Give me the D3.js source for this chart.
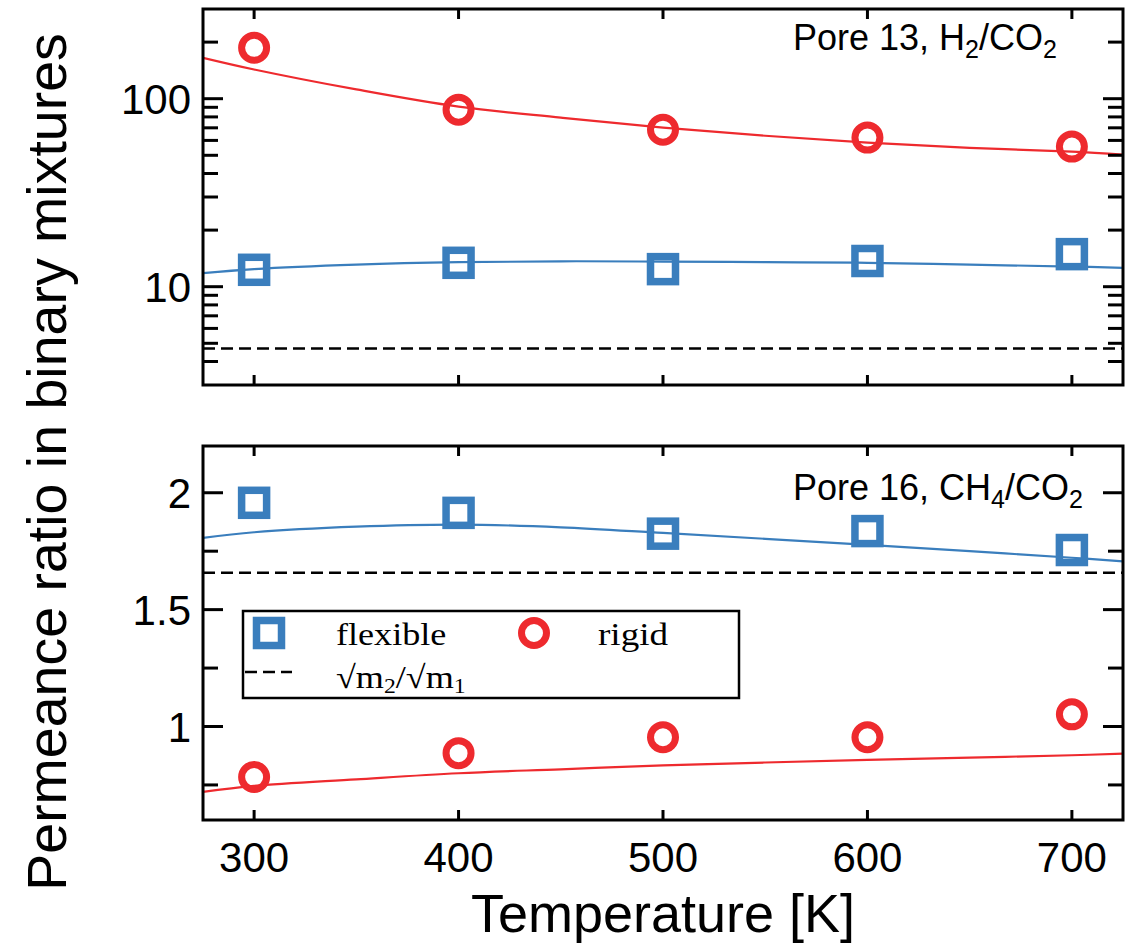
<!DOCTYPE html>
<html>
<head>
<meta charset="utf-8">
<script src="https://cdn.jsdelivr.net/npm/d3@7"></script>
<style>
  html, body { margin: 0; padding: 0; background: #fff; }
  svg { display: block; }
</style>
</head>
<body>
<svg id="chart" width="1143" height="943"></svg>
<script>
// ---- data ----
const temps = [300, 400, 500, 600, 700];
const xTicks = [300, 400, 500, 600, 700];

// Top panel: Pore 13, H2/CO2 (log scale)
const topFlexible = [12.3, 13.4, 12.4, 13.7, 14.9];
const topRigid = [186.6, 87.4, 68.4, 62.1, 55.6];
const topMassRatio = 4.69;

// Bottom panel: Pore 16, CH4/CO2
const bottomFlexible = [1.957, 1.914, 1.825, 1.836, 1.755];
const bottomRigid = [0.784, 0.886, 0.954, 0.954, 1.052];
const bottomMassRatio = 1.658;

// Fit curves
const fitTemps = [275, 300, 350, 400, 450, 500, 550, 600, 650, 700, 725];
const topFlexFit = [11.8, 12.4, 13.1, 13.5, 13.65, 13.6, 13.5, 13.4, 13.1, 12.8, 12.6];
const topRigidFit = [165, 143, 112, 90.7, 79.3, 70.2, 63.5, 58.4, 54.8, 52.3, 50.4];
const bottomFlexFit = [1.807, 1.831, 1.855, 1.864, 1.852, 1.828, 1.803, 1.777, 1.750, 1.722, 1.706];
const bottomRigidFit = [0.720, 0.746, 0.774, 0.800, 0.817, 0.834, 0.846, 0.857, 0.867, 0.877, 0.884];

const topMajor = [10, 100];
const topMinor = [4, 5, 6, 7, 8, 9, 20, 30, 40, 50, 60, 70, 80, 90, 200];
const bottomMajor = [1, 1.5, 2];
const bottomMinor = [0.75, 1.25, 1.75];

// ---- layout ----
const BLUE = "#3A7EBD", RED = "#EE2A2E";
const L = 203, R = 1123;
const topPanel = {t: 9, b: 385};
const botPanel = {t: 446, b: 820};
const svg = d3.select("#chart");
const sans = "'Liberation Sans', Arial, Helvetica, sans-serif";
const serif = "'Liberation Serif', 'Times New Roman', Times, serif";

const x = d3.scaleLinear().domain([275, 725]).range([L, R]);
const yTop = d3.scaleLog().domain([3, 300]).range([topPanel.b, topPanel.t]);
const yBot = d3.scaleLinear().domain([0.6, 2.2]).range([botPanel.b, botPanel.t]);

function panel(y, p, major, minor, fmt, flex, rigid, flexFit, rigidFit, ratio, id) {
  const g = svg.append("g");
  const clipId = "clip" + id;
  svg.append("defs").append("clipPath").attr("id", clipId)
    .append("rect").attr("x", L).attr("y", p.t).attr("width", R - L).attr("height", p.b - p.t);

  const plot = g.append("g").attr("clip-path", `url(#${clipId})`);
  plot.append("line")
    .attr("x1", L).attr("x2", R).attr("y1", y(ratio)).attr("y2", y(ratio))
    .attr("stroke", "#000").attr("stroke-width", 2.5).attr("stroke-dasharray", "12,6");

  const line = (vals) => d3.line()
    .x((d, i) => x(fitTemps[i])).y(d => y(d)).curve(d3.curveCatmullRom)(vals);
  plot.append("path").attr("d", line(flexFit)).attr("fill", "none")
    .attr("stroke", BLUE).attr("stroke-width", 2.2);
  plot.append("path").attr("d", line(rigidFit)).attr("fill", "none")
    .attr("stroke", RED).attr("stroke-width", 2.2);

  g.selectAll(".sq").data(flex).enter().append("rect")
    .attr("x", (d, i) => x(temps[i]) - 12.5).attr("y", d => y(d) - 12.5)
    .attr("width", 25).attr("height", 25)
    .attr("fill", "none").attr("stroke", BLUE).attr("stroke-width", 7.5);
  g.selectAll(".ci").data(rigid).enter().append("circle")
    .attr("cx", (d, i) => x(temps[i])).attr("cy", d => y(d)).attr("r", 12.5)
    .attr("fill", "none").attr("stroke", RED).attr("stroke-width", 7);

  const tk = g.append("g").attr("stroke", "#000").attr("stroke-width", 3);
  xTicks.forEach(t => {
    tk.append("line").attr("x1", x(t)).attr("x2", x(t)).attr("y1", p.b).attr("y2", p.b - 10);
    tk.append("line").attr("x1", x(t)).attr("x2", x(t)).attr("y1", p.t).attr("y2", p.t + 10);
  });
  major.forEach(v => {
    tk.append("line").attr("x1", L).attr("x2", L + 20).attr("y1", y(v)).attr("y2", y(v));
    tk.append("line").attr("x1", R).attr("x2", R - 20).attr("y1", y(v)).attr("y2", y(v));
  });
  minor.forEach(v => {
    tk.append("line").attr("x1", L).attr("x2", L + 15).attr("y1", y(v)).attr("y2", y(v));
    tk.append("line").attr("x1", R).attr("x2", R - 15).attr("y1", y(v)).attr("y2", y(v));
  });
  g.selectAll(".yl").data(major).enter().append("text")
    .attr("x", L - 12).attr("y", d => y(d)).attr("dy", "0.36em")
    .attr("text-anchor", "end").attr("font-family", sans).attr("font-size", 42)
    .text(fmt);

  g.append("rect").attr("x", L).attr("y", p.t).attr("width", R - L).attr("height", p.b - p.t)
    .attr("fill", "none").attr("stroke", "#000").attr("stroke-width", 3);
  return g;
}

const gTop = panel(yTop, topPanel, topMajor, topMinor, d => d3.format("d")(d),
  topFlexible, topRigid, topFlexFit, topRigidFit, topMassRatio, "t");
const gBot = panel(yBot, botPanel, bottomMajor, bottomMinor, d => String(d),
  bottomFlexible, bottomRigid, bottomFlexFit, bottomRigidFit, bottomMassRatio, "b");

function label(g, yb, parts) {
  const t = g.append("text").attr("x", 793).attr("y", yb)
    .attr("font-family", sans).attr("font-size", 36);
  let prevSub = false;
  parts.forEach(([s, sub]) => {
    if (sub) t.append("tspan").attr("font-size", 25).attr("dy", 8).text(s);
    else t.append("tspan").attr("dy", prevSub ? -8 : 0).text(s);
    prevSub = !!sub;
  });
}
label(gTop, 50, [["Pore 13, H"], ["2", true], ["/CO"], ["2", true]]);
label(gBot, 500, [["Pore 16, CH"], ["4", true], ["/CO"], ["2", true]]);

svg.selectAll(".xl").data(xTicks).enter().append("text")
  .attr("x", d => x(d)).attr("y", 872).attr("text-anchor", "middle")
  .attr("font-family", sans).attr("font-size", 42).text(d => d);

svg.append("text").attr("x", (L + R) / 2).attr("y", 932).attr("text-anchor", "middle")
  .attr("font-family", sans).attr("font-size", 54).text("Temperature [K]");
svg.append("text").attr("transform", "translate(66,462) rotate(-90)")
  .attr("text-anchor", "middle").attr("font-family", sans).attr("font-size", 55.5)
  .text("Permeance ratio in binary mixtures");

// legend
const lg = svg.append("g");
lg.append("rect").attr("x", 243).attr("y", 611).attr("width", 496).attr("height", 87)
  .attr("fill", "#fff").attr("stroke", "#000").attr("stroke-width", 2.5);
lg.append("rect").attr("x", 269 - 12.5).attr("y", 633 - 12.5).attr("width", 25).attr("height", 25)
  .attr("fill", "none").attr("stroke", BLUE).attr("stroke-width", 7.5);
lg.append("circle").attr("cx", 534).attr("cy", 633).attr("r", 12.5)
  .attr("fill", "none").attr("stroke", RED).attr("stroke-width", 7);
lg.append("line").attr("x1", 245).attr("x2", 292).attr("y1", 672).attr("y2", 672)
  .attr("stroke", "#000").attr("stroke-width", 2.5).attr("stroke-dasharray", "12,6");
function ltext(xp, yp, sx) {
  return lg.append("text").attr("transform", `translate(${xp},${yp}) scale(${sx},1)`)
    .attr("font-family", serif).attr("font-size", 32);
}
ltext(336, 645, 1.13).text("flexible");
ltext(598, 645, 1.16).text("rigid");
const m = ltext(336, 688, 1.13);
m.append("tspan").text("\u221Am");
m.append("tspan").attr("font-size", 21).attr("dy", 5).text("2");
m.append("tspan").attr("dy", -5).text("/\u221Am");
m.append("tspan").attr("font-size", 21).attr("dy", 5).text("1");
</script>
</body>
</html>
